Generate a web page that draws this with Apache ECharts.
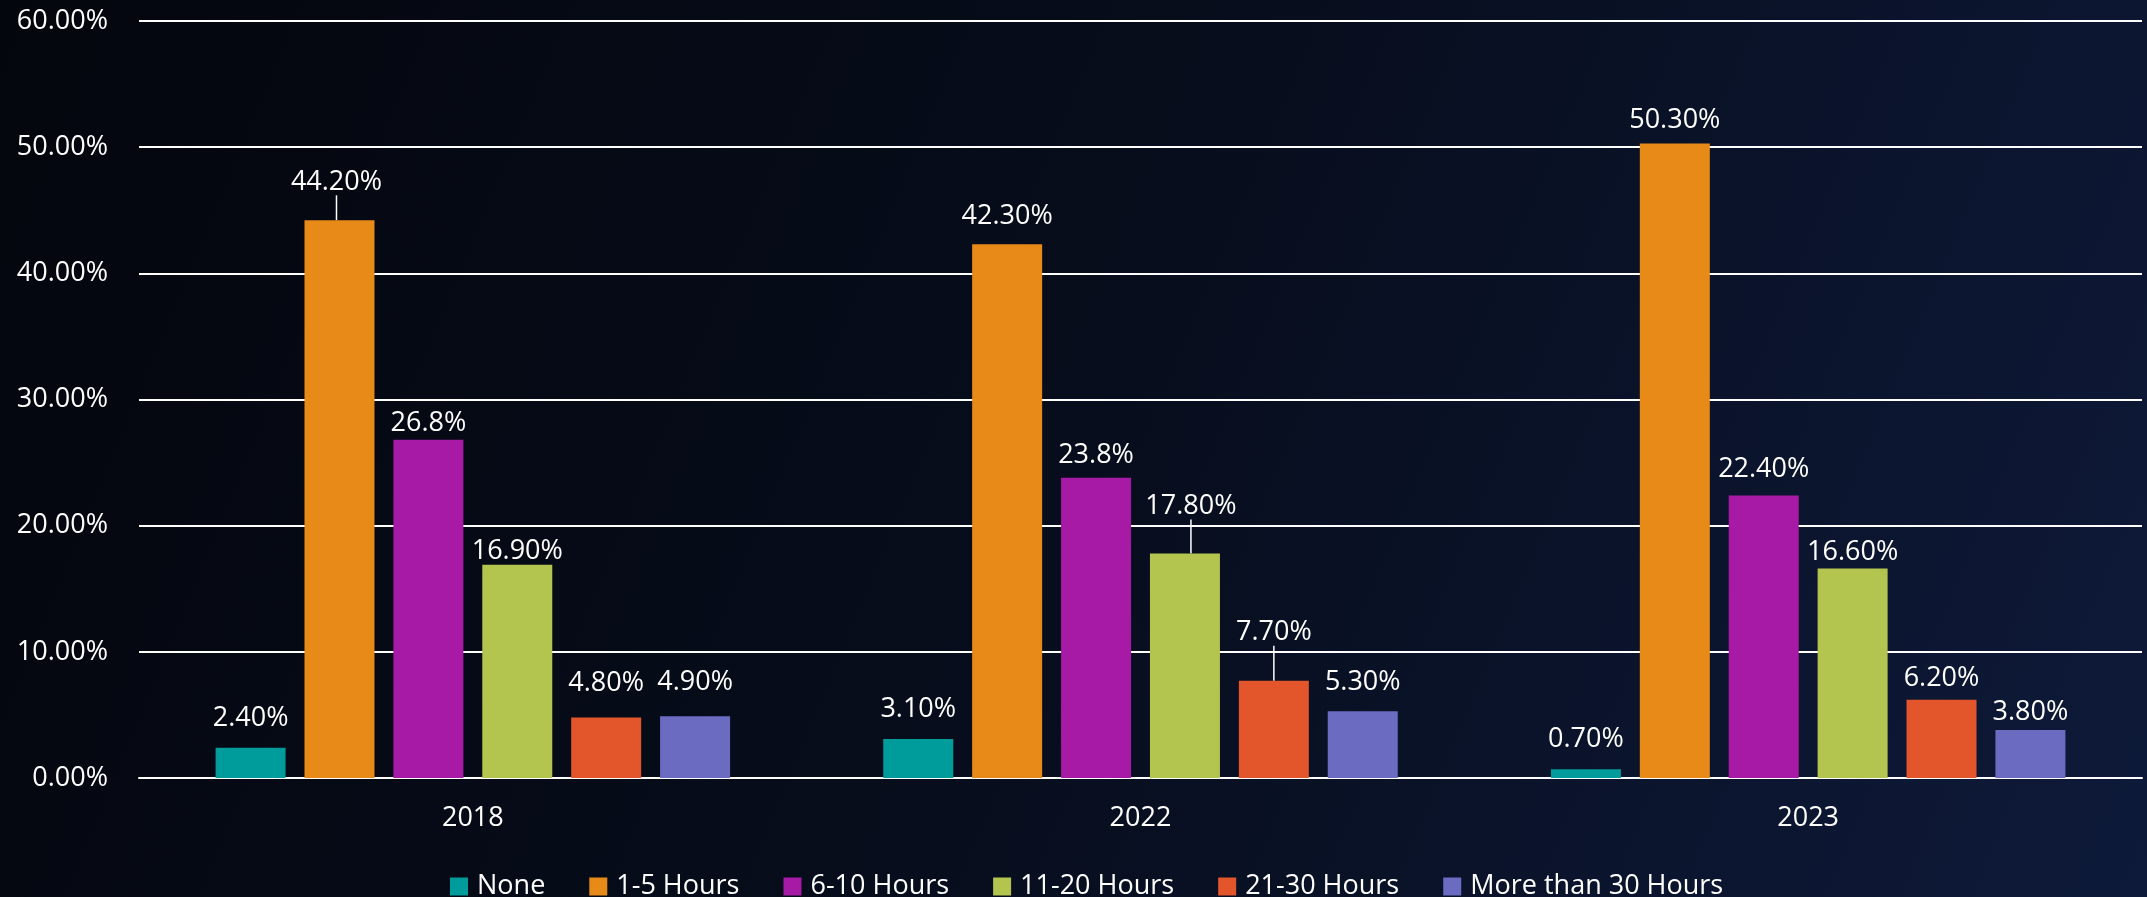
<!DOCTYPE html>
<html>
<head>
<meta charset="utf-8">
<script src="https://cdn.jsdelivr.net/npm/echarts@6/dist/echarts.min.js"></script>
<style>
html,body{margin:0;padding:0;width:2147px;height:897px;overflow:hidden;background:#060a16;}
#chart{width:2147px;height:897px;}
</style>
</head>
<body>
<div id="chart"></div>
<script>
// ---- data ----
const years = ['2018', '2022', '2023'];
const seriesNames = ['None', '1-5 Hours', '6-10 Hours', '11-20 Hours', '21-30 Hours', 'More than 30 Hours'];
const none      = [2.4, 3.1, 0.7];
const h1to5     = [44.2, 42.3, 50.3];
const h6to10    = [26.8, 23.8, 22.4];
const h11to20   = [16.9, 17.8, 16.6];
const h21to30   = [4.8, 7.7, 6.2];
const over30    = [4.9, 5.3, 3.8];
const labelNone    = ['2.40%', '3.10%', '0.70%'];
const label1to5    = ['44.20%', '42.30%', '50.30%'];
const label6to10   = ['26.8%', '23.8%', '22.40%'];
const label11to20  = ['16.90%', '17.80%', '16.60%'];
const label21to30  = ['4.80%', '7.70%', '6.20%'];
const labelOver30  = ['4.90%', '5.30%', '3.80%'];
const yTicks = [0, 10, 20, 30, 40, 50, 60];

// ---- styling ----
const colors = ['#009b9b', '#e88a18', '#a61aa6', '#b3c44f', '#e3562b', '#6b6bc2'];
const values = [none, h1to5, h6to10, h11to20, h21to30, over30];
const labels = [labelNone, label1to5, label6to10, label11to20, label21to30, labelOver30];
// label centre height above bar top (px), per series / category
const lift = [
  [30, 30, 30],
  [39, 29, 24],
  [17, 23, 27],
  [14, 48, 17],
  [35, 49, 22],
  [34, 29, 18]
];
// which labels have leader lines
const leader = [
  [false, false, false],
  [true, false, false],
  [false, false, false],
  [false, true, false],
  [false, true, false],
  [false, false, false]
];
const leaderDx = [[0,0,0],[-3,0,0],[0,0,0],[0,6,0],[0,0,0],[0,0,0]];
const FONT = '"Open Sans", "Noto Sans", sans-serif';

const chart = echarts.init(document.getElementById('chart'), null, {renderer: 'canvas'});

const series = seriesNames.map((name, s) => ({
  name: name,
  type: 'bar',
  barWidth: 70,
  barGap: '27%',
  itemStyle: {color: colors[s]},
  label: {
    show: true,
    position: 'top',
    distance: 0,
    color: '#ffffff',
    fontSize: 27,
    fontFamily: FONT,
    formatter: p => labels[s][p.dataIndex]
  },
  labelLine: {show: false, lineStyle: {color: '#ffffff', width: 1.5}},
  labelLayout: p => ({
    dx: leaderDx[s][p.dataIndex],
    dy: -(lift[s][p.dataIndex] - 14)
  }),
  data: values[s].map((v, i) => ({
    value: v,
    labelLine: {show: leader[s][i], lineStyle: {color: '#ffffff', width: 1.5}}
  }))
}));

chart.setOption({
  backgroundColor: {
    type: 'linear', x: 0, y: 0, x2: 1, y2: 1,
    colorStops: [
      {offset: 0, color: '#04060d'},
      {offset: 0.5, color: '#070d1c'},
      {offset: 1, color: '#0e1a3a'}
    ]
  },
  animation: false,
  textStyle: {fontFamily: FONT},
  grid: {left: 139, right: 5, top: 21, bottom: 119, containLabel: false},
  legend: {
    left: 445,
    top: 868,
    itemWidth: 18,
    itemHeight: 18,
    itemGap: 44,
    icon: 'rect',
    data: seriesNames,
    textStyle: {color: '#ffffff', fontSize: 27, fontFamily: FONT, padding: [0, 0, 0, 4]}
  },
  xAxis: {
    type: 'category',
    data: years,
    axisLine: {show: true, lineStyle: {color: '#ffffff', width: 2}},
    axisTick: {show: false},
    axisLabel: {color: '#ffffff', fontSize: 27, fontFamily: FONT, margin: 27}
  },
  yAxis: {
    type: 'value',
    min: yTicks[0],
    max: yTicks[yTicks.length - 1],
    interval: yTicks[1] - yTicks[0],
    axisLine: {show: false},
    axisTick: {show: false},
    splitLine: {show: true, lineStyle: {color: '#ffffff', width: 2}},
    axisLabel: {
      color: '#ffffff', fontSize: 27, fontFamily: FONT, margin: 31,
      formatter: v => v.toFixed(2) + '%'
    }
  },
  series: series
});
</script>
</body>
</html>
